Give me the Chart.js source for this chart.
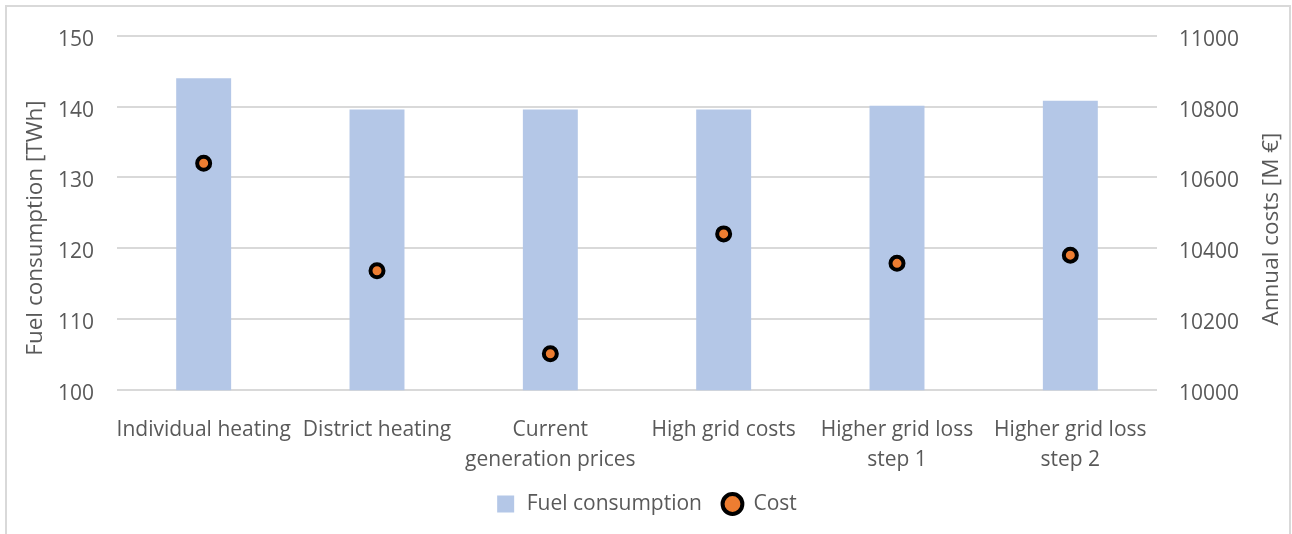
<!DOCTYPE html>
<html>
<head>
<meta charset="utf-8">
<script src="https://cdn.jsdelivr.net/npm/chart.js@4.4.1/dist/chart.umd.min.js"></script>
<style>
  html, body { margin: 0; padding: 0; background: #fff; }
  #wrap { position: relative; width: 1292px; height: 534px; overflow: hidden; }
  #frame { position: absolute; left: 5px; top: 5px; width: 1286px; height: 560px;
           border: 2px solid #D9D9D9; box-sizing: border-box; pointer-events: none; }
  canvas { position: absolute; left: 0; top: 0; }
</style>
</head>
<body>
<div id="wrap">
  <canvas id="chart" width="1292" height="534"></canvas>
  <div id="frame"></div>
</div>
<script>
// Scenario categories (multi-line labels as arrays)
const categories = [
  'Individual heating',
  'District heating',
  ['Current', 'generation prices'],
  'High grid costs',
  ['Higher grid loss', 'step 1'],
  ['Higher grid loss', 'step 2']
];

// Fuel consumption per scenario [TWh]
const fuelConsumption = [144.0, 139.6, 139.6, 139.6, 140.1, 140.8];

// Annual system cost per scenario [M €]
const annualCost = [10640, 10337, 10103, 10441, 10358, 10381];

// Axis ranges
const fuelAxis = { min: 100, max: 150, step: 10 };
const costAxis = { min: 10000, max: 11000, step: 200 };

const leftTitle = 'Fuel consumption [TWh]';
const rightTitle = 'Annual costs [M €]';

const FONT = '"Open Sans", "Noto Sans", sans-serif';
const TEXT = '#595959';
const GRID = '#D9D9D9';
const BAR = '#B4C7E7';
const DOT = '#ED7D31';

// Rotated axis titles, both reading bottom-to-top
const axisTitles = {
  id: 'axisTitles',
  afterDraw(chart) {
    const ctx = chart.ctx;
    const drawTitle = (text, x, y) => {
      ctx.save();
      ctx.translate(x, y);
      ctx.rotate(-Math.PI / 2);
      ctx.font = '22.5px ' + FONT;
      ctx.fillStyle = TEXT;
      ctx.textAlign = 'center';
      ctx.textBaseline = 'middle';
      ctx.fillText(text, 0, 0);
      ctx.restore();
    };
    drawTitle(leftTitle, 36, 228);
    drawTitle(rightTitle, 1272, 229);
  }
};

new Chart(document.getElementById('chart'), {
  data: {
    labels: categories,
    datasets: [
      {
        type: 'bar',
        label: 'Fuel consumption',
        data: fuelConsumption,
        yAxisID: 'y',
        backgroundColor: BAR,
        borderWidth: 0,
        categoryPercentage: 1,
        barPercentage: 0.317,
        order: 1,
        pointStyle: 'rect'
      },
      {
        type: 'line',
        label: 'Cost',
        data: annualCost,
        yAxisID: 'y1',
        showLine: false,
        pointRadius: 6.5,
        pointHoverRadius: 6.5,
        pointBorderWidth: 4,
        pointBackgroundColor: DOT,
        pointBorderColor: '#000000',
        backgroundColor: DOT,
        borderColor: '#000000',
        order: 0,
        pointStyle: 'circle'
      }
    ]
  },
  options: {
    responsive: false,
    animation: false,
    devicePixelRatio: 1,
    layout: { padding: { top: 33.3, left: 0, right: 0, bottom: 9.5 } },
    plugins: {
      tooltip: { enabled: false },
      legend: {
        position: 'bottom',
        labels: {
          usePointStyle: true,
          boxHeight: 14,
          padding: 20,
          color: TEXT,
          font: { family: FONT, size: 21 },
          sort: (a, b) => a.datasetIndex - b.datasetIndex,
          generateLabels(chart) {
            const items = Chart.defaults.plugins.legend.labels.generateLabels(chart);
            items.forEach(it => {
              if (it.datasetIndex === 0) {
                it.pointStyle = 'rect';
                it.fillStyle = BAR;
                it.strokeStyle = BAR;
                it.lineWidth = 3;
              } else {
                it.pointStyle = 'circle';
                it.fillStyle = DOT;
                it.strokeStyle = '#000000';
                it.lineWidth = 4;
              }
            });
            return items;
          }
        }
      }
    },
    scales: {
      x: {
        offset: true,
        grid: { display: false, drawTicks: false },
        border: { display: false },
        ticks: {
          color: TEXT,
          font: { family: FONT, size: 21, lineHeight: 1.43 },
          maxRotation: 0,
          minRotation: 0,
          autoSkip: false,
          padding: 25
        },
        afterFit(scale) { scale.height = 83.2; }
      },
      y: {
        position: 'left',
        min: fuelAxis.min,
        max: fuelAxis.max,
        ticks: {
          stepSize: fuelAxis.step,
          color: TEXT,
          font: { family: FONT, size: 21 },
          padding: 23,
          labelOffset: 4
        },
        grid: { color: GRID, lineWidth: 2, drawTicks: false },
        border: { display: false },
        afterFit(scale) { scale.width = 117; }
      },
      y1: {
        position: 'right',
        min: costAxis.min,
        max: costAxis.max,
        ticks: {
          stepSize: costAxis.step,
          color: TEXT,
          font: { family: FONT, size: 21 },
          padding: 22,
          labelOffset: 4,
          callback: v => String(v)
        },
        grid: { display: false, drawTicks: false },
        border: { display: false },
        afterFit(scale) { scale.width = 135; }
      }
    }
  },
  plugins: [axisTitles]
});
</script>
</body>
</html>
